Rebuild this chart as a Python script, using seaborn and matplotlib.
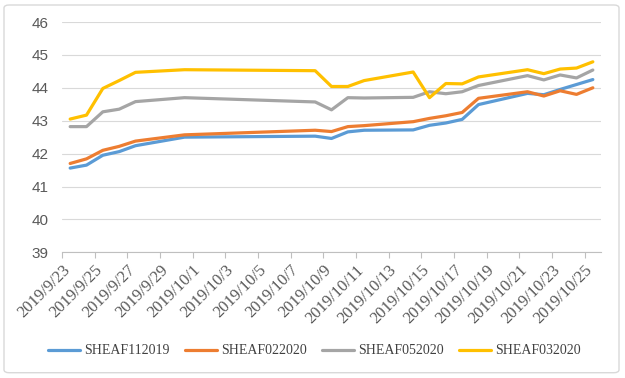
import matplotlib
matplotlib.use("Agg")
import matplotlib.pyplot as plt
import pandas as pd
import seaborn as sns
from matplotlib.patches import FancyBboxPatch

# ---- data ----
dates = ["2019-09-23", "2019-09-24", "2019-09-25", "2019-09-26", "2019-09-27",
         "2019-09-30", "2019-10-08", "2019-10-09", "2019-10-10", "2019-10-11",
         "2019-10-14", "2019-10-15", "2019-10-16", "2019-10-17", "2019-10-18",
         "2019-10-21", "2019-10-22", "2019-10-23", "2019-10-24", "2019-10-25"]

sheaf112019 = [41.56, 41.65, 41.95, 42.06, 42.24, 42.50, 42.53, 42.46, 42.66, 42.71,
               42.72, 42.86, 42.93, 43.04, 43.49, 43.83, 43.79, 43.95, 44.10, 44.25]
sheaf022020 = [41.70, 41.84, 42.10, 42.22, 42.38, 42.57, 42.71, 42.67, 42.82, 42.85,
               42.97, 43.07, 43.15, 43.25, 43.68, 43.88, 43.75, 43.91, 43.80, 44.00]
sheaf052020 = [42.82, 42.82, 43.27, 43.35, 43.58, 43.70, 43.57, 43.33, 43.70, 43.69,
               43.71, 43.88, 43.82, 43.88, 44.07, 44.37, 44.24, 44.39, 44.30, 44.54]
sheaf032020 = [43.05, 43.17, 43.98, 44.22, 44.47, 44.55, 44.52, 44.04, 44.04, 44.22,
               44.48, 43.70, 44.13, 44.12, 44.33, 44.55, 44.43, 44.57, 44.60, 44.79]

series_names = ["SHEAF112019", "SHEAF022020", "SHEAF052020", "SHEAF032020"]
colors = ["#5B9BD5", "#ED7D31", "#A5A5A5", "#FFC000"]

tick_labels = ["2019/9/23", "2019/9/25", "2019/9/27", "2019/9/29", "2019/10/1",
               "2019/10/3", "2019/10/5", "2019/10/7", "2019/10/9", "2019/10/11",
               "2019/10/13", "2019/10/15", "2019/10/17", "2019/10/19", "2019/10/21",
               "2019/10/23", "2019/10/25"]
y_ticks = [39, 40, 41, 42, 43, 44, 45, 46]

# ---- build long-form table ----
start = pd.Timestamp(dates[0])
wide = pd.DataFrame({"date": pd.to_datetime(dates),
                     series_names[0]: sheaf112019,
                     series_names[1]: sheaf022020,
                     series_names[2]: sheaf052020,
                     series_names[3]: sheaf032020})
df = wide.melt(id_vars="date", var_name="series", value_name="value")
df["day"] = (df["date"] - start).dt.days

sns.set_theme(style="white")
plt.rcParams["font.family"] = ["Liberation Serif", "DejaVu Serif"]

fig = plt.figure(figsize=(6.25, 3.78), dpi=100)
ax = fig.add_axes([62 / 625, 1 - 252.3 / 378, (601 - 62) / 625, (252.3 - 22) / 378])

sns.lineplot(data=df, x="day", y="value", hue="series", hue_order=series_names,
             palette=colors, linewidth=2.3, ax=ax, legend=True)

# axes styling
ndays = (pd.Timestamp(dates[-1]) - start).days
ax.set_xlim(-0.5, ndays + 0.5)
ax.set_ylim(y_ticks[0], y_ticks[-1])
ax.set_yticks(y_ticks)
ax.set_yticklabels([str(v) for v in y_ticks], fontfamily="Liberation Sans",
                   fontsize=11, color="#595959")
tick_pos = [(pd.Timestamp(t.replace("/", "-")) - start).days - 0.5 for t in tick_labels]
ax.set_xticks(tick_pos)
ax.set_xticklabels(tick_labels, rotation=45, ha="right", va="top",
                   rotation_mode="anchor", fontsize=12, color="#595959")
ax.set_xlabel("")
ax.set_ylabel("")
ax.grid(axis="y", color="#D9D9D9", linewidth=0.8)
ax.grid(axis="x", visible=False)
for s in ["top", "right", "left"]:
    ax.spines[s].set_visible(False)
ax.spines["bottom"].set_color("#BFBFBF")
ax.spines["bottom"].set_linewidth(0.8)
ax.tick_params(axis="y", length=0, pad=9.5)
ax.tick_params(axis="x", direction="out", length=4, width=0.8, color="#BFBFBF",
               pad=3, bottom=True)

handles, labels = ax.get_legend_handles_labels()
ax.get_legend().remove()
fig.legend(handles, labels, loc="center", bbox_to_anchor=(0.503, 1 - 351 / 378),
           ncol=4, frameon=False, fontsize=10, handlelength=2.3,
           handletextpad=0.3, columnspacing=1.1, labelcolor="#404040")

# chart-area border
border = FancyBboxPatch((4 / 625, 1 - 372.7 / 378), (619 - 4) / 625, (372.7 - 5) / 378,
                        boxstyle="round,pad=0,rounding_size=0.008",
                        transform=fig.transFigure, fill=False,
                        edgecolor="#D9D9D9", linewidth=1.0)
fig.patches.append(border)

fig.savefig("out.png", dpi=100)
